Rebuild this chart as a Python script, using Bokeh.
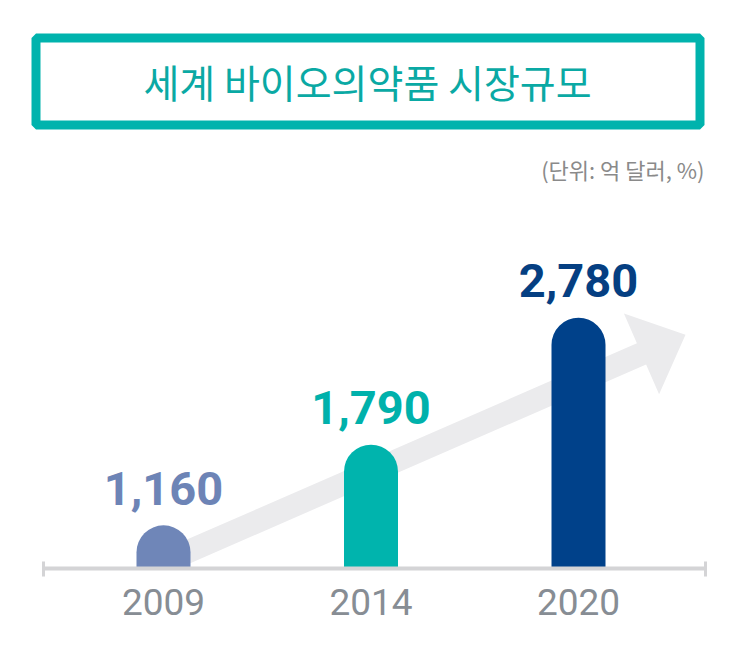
from bokeh.plotting import figure
from bokeh.layouts import column
from bokeh.models import Range1d, FixedTicker, ColumnDataSource
from bokeh.core.properties import value
from bokeh.embed import file_html
from bokeh.resources import INLINE
import math

# ---- data ----
years = ["2009", "2014", "2020"]
market_size = [1160, 1790, 2780]          # 억 달러
bar_colors = ["#6f86b8", "#00b4ad", "#00418a"]
label_colors = ["#6d84b6", "#00b1ab", "#053f82"]
title_text = "세계 바이오의약품 시장규모"
unit_text = "(단위: 억 달러, %)"

TEAL = "#00b3ad"
W = 729

# ---- title figure ----
H1 = 195
p1 = figure(width=W, height=H1, x_range=Range1d(0, W), y_range=Range1d(H1, 0),
            output_backend="svg", toolbar_location=None,
            x_axis_location=None, y_axis_location=None, min_border=0)
p1.outline_line_color = None
p1.grid.visible = False
p1.quad(left=[35.5], right=[699.5], top=[37.5], bottom=[124.5],
        fill_color=None, line_color=TEAL, line_width=9)
p1.text(x=[367], y=[80], text=[title_text], text_align="center", text_baseline="middle",
        text_font=value("Noto Sans CJK KR"), text_font_size="39px", text_color="#0aa9a4")
p1.text(x=[704], y=[168], text=[unit_text], text_align="right", text_baseline="middle",
        text_font=value("Noto Sans CJK KR"), text_font_size="22px", text_color="#8a8a8a")

# ---- chart figure ----
px_per_x = 207.5          # pixels per category step
px_per_v = 0.1281         # pixels per 억 달러
BASE = 823                # value at the baseline
H2 = 445
fig_top_page, frame_bottom_page, base_page = H1, 580, 568
first_center_page = 163

x_start = -first_center_page / px_per_x
y_start = BASE - (frame_bottom_page - base_page) / px_per_v
y_end = BASE + (base_page - fig_top_page) / px_per_v

p2 = figure(width=W, height=H2,
            x_range=Range1d(x_start, x_start + W / px_per_x),
            y_range=Range1d(y_start, y_end),
            output_backend="svg", toolbar_location=None,
            y_axis_location=None, min_border=0,
            min_border_bottom=H1 + H2 - frame_bottom_page)
p2.outline_line_color = None
p2.grid.visible = False


def dx(page_x):
    return (page_x - first_center_page) / px_per_x


def dy(page_y):
    return BASE + (base_page - page_y) / px_per_v


# decorative trend arrow (page-pixel geometry)
ang = math.atan(0.436)
ux, uy = math.cos(ang), -math.sin(ang)
nx, ny = math.sin(ang), math.cos(ang)
B = (641.0, 353.4)
half_shaft, half_head, head_len = 11.5, 44.0, 48.0
sx, sy = 180.0, 554.4
vhalf = half_shaft / math.cos(ang)
pts = [
    (sx, sy - vhalf),
    (B[0] - half_shaft * nx, B[1] - half_shaft * ny),
    (B[0] - half_head * nx, B[1] - half_head * ny),
    (B[0] + head_len * ux, B[1] + head_len * uy),
    (B[0] + half_head * nx, B[1] + half_head * ny),
    (B[0] + half_shaft * nx, B[1] + half_shaft * ny),
    (sx, sy + vhalf),
]
p2.patch([dx(a) for a, _ in pts], [dy(b) for _, b in pts],
         fill_color="#ebebed", line_color=None)

src = ColumnDataSource(dict(
    x=list(range(len(years))), v=market_size, color=bar_colors, lcolor=label_colors,
    label=[f"{v:,}" for v in market_size]))

p2.vbar(x="x", top="v", bottom=BASE, width=54 / px_per_x, source=src,
        fill_color="color", line_color=None, border_radius=(27, 27, 0, 0))

p2.text(x="x", y="v", text="label", source=src, y_offset=-37,
        text_align="center", text_baseline="alphabetic",
        text_font=value("Roboto"), text_font_style="bold",
        text_font_size="47px", text_color="lcolor")

# baseline with end ticks
ax0, ax1 = dx(43), dx(705)
p2.segment(x0=[ax0], y0=[BASE], x1=[ax1], y1=[BASE], line_color="#d4d4d6", line_width=4)
p2.segment(x0=[ax0, ax1], y0=[dy(561), dy(561)], x1=[ax0, ax1], y1=[dy(576), dy(576)],
           line_color="#d4d4d6", line_width=3)

p2.xaxis.ticker = FixedTicker(ticks=list(range(len(years))))
p2.xaxis.major_label_overrides = {i: y for i, y in enumerate(years)}
p2.xaxis.axis_line_color = None
p2.xaxis.major_tick_line_color = None
p2.xaxis.minor_tick_line_color = None
p2.xaxis.major_label_standoff = 2
p2.xaxis.major_label_text_font = "Roboto"
p2.xaxis.major_label_text_font_size = "37px"
p2.xaxis.major_label_text_color = "#878d94"

layout = column(p1, p2, spacing=0)
open("out.html", "w").write(file_html(layout, INLINE))
